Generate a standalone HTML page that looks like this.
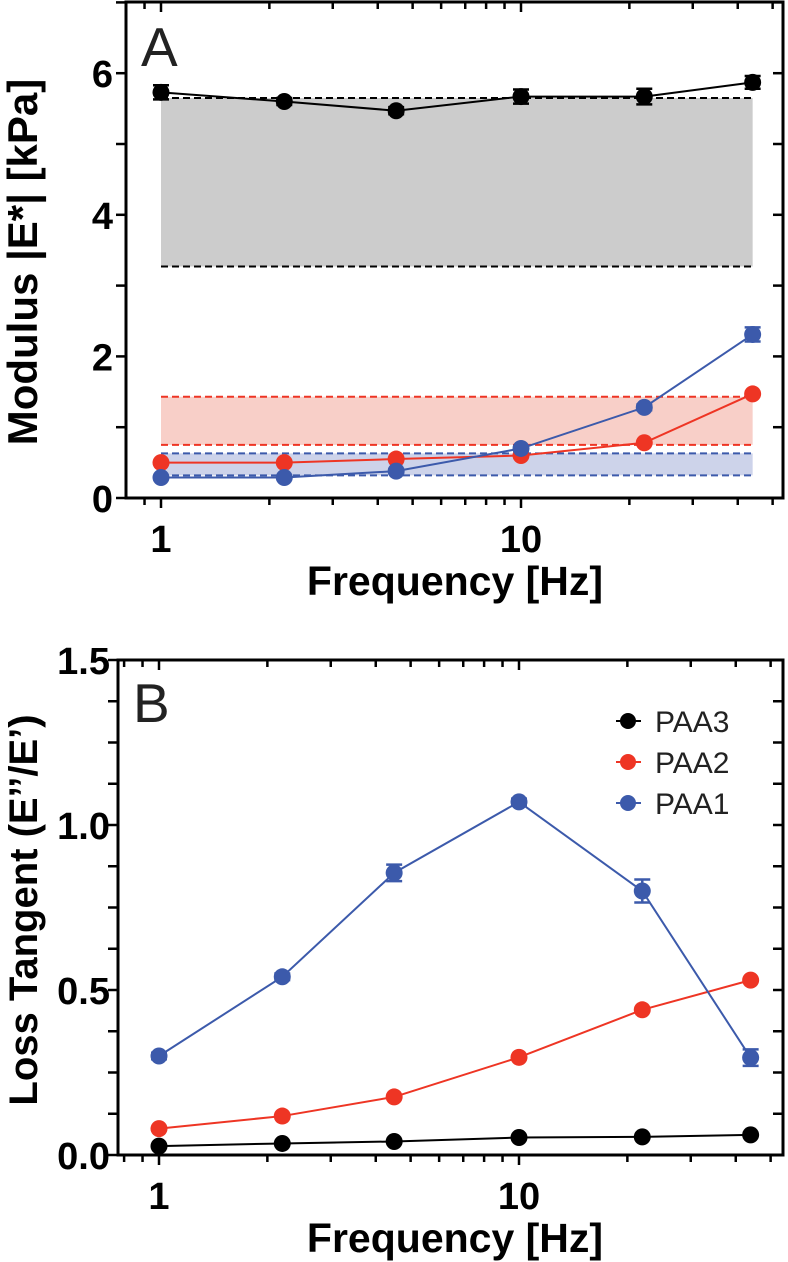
<!DOCTYPE html>
<html><head><meta charset="utf-8"><style>
html,body{margin:0;padding:0;background:#fff;}
svg{display:block;font-family:"Liberation Sans",Arial,sans-serif;}
</style></head><body>
<svg id="fig" width="788" height="1262" viewBox="0 0 788 1262" xmlns="http://www.w3.org/2000/svg"></svg>
<script>
const freqs=[1,2.2,4.5,10,22,44];
const aBlack=[5.73,5.6,5.47,5.67,5.67,5.87];
const aBlackErr=[0.1,0.05,0.05,0.1,0.11,0.09];
const aRed=[0.5,0.5,0.55,0.6,0.78,1.47];
const aBlue=[0.29,0.29,0.38,0.7,1.28,2.31];
const aBlueErr=[0.02,0.02,0.03,0.03,0.04,0.1];
const aBands=[{lo:3.27,hi:5.65,c:'#000',f:'#cccccc'},{lo:0.75,hi:1.43,c:'#ee3524',f:'#f8cfc8'},{lo:0.32,hi:0.63,c:'#3c5aab',f:'#cdd3ea'}];
const bBlack=[0.027,0.035,0.041,0.053,0.055,0.061];
const bRed=[0.08,0.118,0.176,0.296,0.44,0.53];
const bBlue=[0.30,0.54,0.855,1.07,0.80,0.295];
const bBlueErr=[0.01,0.01,0.025,0.01,0.035,0.025];
const yTicksA=[0,2,4,6];
const yTicksB=['0.0','0.5','1.0','1.5'];
const xTickLabels=[1,10];
const legendNames=['PAA3','PAA2','PAA1'];
const COL={k:'#000',r:'#ee3524',b:'#3c5aab'};

const svg=document.getElementById('fig');
const NS='http://www.w3.org/2000/svg';
function el(t,a,p){const e=document.createElementNS(NS,t);for(const k in a)e.setAttribute(k,a[k]);(p||svg).appendChild(e);return e;}

function panel(cfg){
  const g=el('g',{});
  
  
  const X=f=>cfg.x1+Math.log10(f)*cfg.dec;
  const Y=v=>cfg.y0-v*cfg.ppu;
  const back=el('g',{},g);
  const fr=el('rect',{x:cfg.L,y:cfg.T,width:cfg.R-cfg.L,height:cfg.B-cfg.T,fill:'none',stroke:'#000','stroke-width':3},g);
  
  const minors=[];for(let d=0.1;d<=10;d*=10)for(let m=1;m<10;m++){const f=m*d;if(X(f)>cfg.L+2&&X(f)<cfg.R-2)minors.push(f);}
  minors.forEach(f=>{const major=Math.abs(Math.log10(f)-Math.round(Math.log10(f)))<1e-6;const len=major?10:7;
    el('line',{x1:X(f),x2:X(f),y1:cfg.B,y2:cfg.B+len,stroke:'#000','stroke-width':2.5},g);
    el('line',{x1:X(f),x2:X(f),y1:cfg.T,y2:cfg.T+len,stroke:'#000','stroke-width':2.5},g);});
  xTickLabels.forEach(f=>{const t=el('text',{x:X(f),y:cfg.B+54,'text-anchor':'middle','font-size':38,'font-weight':'bold'},g);t.textContent=f;
    });
  for(let v=0;v<=cfg.ymax+1e-9;v+=cfg.minorStep){const yy=Y(v);if(yy<cfg.T-1)continue;
    el('line',{x1:cfg.L-10,x2:cfg.L,y1:yy,y2:yy,stroke:'#000','stroke-width':2.5},g);
    el('line',{x1:cfg.R-10,x2:cfg.R,y1:yy,y2:yy,stroke:'#000','stroke-width':2.5},g);}
  cfg.yLabels.forEach(s=>{const t=el('text',{x:cfg.L-cfg.yLblGap,y:Y(parseFloat(s))+14,'text-anchor':'end','font-size':38,'font-weight':'bold'},g);t.textContent=s;
    });
  const xt=el('text',{x:455,y:cfg.B+97,'text-anchor':'middle','font-size':41,'font-weight':'bold'},g);xt.textContent='Frequency [Hz]';
  
  const yt=el('text',{x:0,y:0,transform:`translate(${cfg.ytx},${cfg.ytc}) rotate(-90)`,'text-anchor':'middle','font-size':cfg.ytfs,'font-weight':'bold'},g);yt.textContent=cfg.ytitle;
  
  const pl=el('text',{x:cfg.L+15,y:cfg.T+cfg.lblOff,'font-size':55,fill:'#222'},g);pl.textContent=cfg.letter;
  
  return {g,back,X,Y};
}

function series(p,vals,errs,c,name){
  const g=el('g',{},p.g);
  
  
  el('polyline',{points:vals.map((v,i)=>p.X(freqs[i])+','+p.Y(v)).join(' '),fill:'none',stroke:c,'stroke-width':2},g);
  vals.forEach((v,i)=>{const x=p.X(freqs[i]);
    if(errs){const e=errs[i];el('line',{x1:x,x2:x,y1:p.Y(v+e),y2:p.Y(v-e),stroke:c,'stroke-width':2.5},g);
      [v+e,v-e].forEach(w=>el('line',{x1:x-8,x2:x+8,y1:p.Y(w),y2:p.Y(w),stroke:c,'stroke-width':2.5},g));}
    const m=el('circle',{cx:x,cy:p.Y(v),r:8.5,fill:c},g);
    });
}

const A=panel({name:'panel-a-modulus',L:126,R:783,T:2,B:498,x1:161,dec:360,y0:498,ppu:70.8,ymax:7,minorStep:1,
  yLabels:yTicksA.map(String),yLblGap:13,ytitle:'Modulus |E*| [kPa]',ytx:37,ytc:262,ytfs:42,letter:'A',lblOff:64});
aBands.forEach(b=>{const x0=A.X(freqs[0]),x1=A.X(freqs[5]);
  const r=el('rect',{x:x0,y:A.Y(b.hi),width:x1-x0,height:A.Y(b.lo)-A.Y(b.hi),fill:b.f},A.back);
  
  [b.lo,b.hi].forEach(v=>el('line',{x1:x0,x2:x1,y1:A.Y(v),y2:A.Y(v),stroke:b.c,'stroke-width':2,'stroke-dasharray':'7,4'},A.back));});
series(A,aBlack,aBlackErr,COL.k,'series-paa3-modulus');
series(A,aRed,null,COL.r,'series-paa2-modulus');
series(A,aBlue,aBlueErr,COL.b,'series-paa1-modulus');

const B=panel({name:'panel-b-loss-tangent',L:118,R:783,T:660,B:1155,x1:159,dec:360,y0:1155,ppu:330,ymax:1.5,minorStep:0.125,
  yLabels:yTicksB,yLblGap:8,ytitle:'Loss Tangent (E\u2019\u2019/E\u2019)',ytx:37,ytc:910,ytfs:40,letter:'B',lblOff:62});
series(B,bBlack,null,COL.k,'series-paa3-loss');
series(B,bRed,null,COL.r,'series-paa2-loss');
series(B,bBlue,bBlueErr,COL.b,'series-paa1-loss');
const lc=[COL.k,COL.r,COL.b];
legendNames.forEach((n,i)=>{const y=721+i*41;const g=el('g',{},B.g);
  
  el('line',{x1:616,x2:641,y1:y,y2:y,stroke:lc[i],'stroke-width':2},g);
  el('circle',{cx:628,cy:y,r:8,fill:lc[i]},g);
  const t=el('text',{x:655,y:y+11,'font-size':30,fill:'#222'},g);t.textContent=n;});
</script>
</body></html>
